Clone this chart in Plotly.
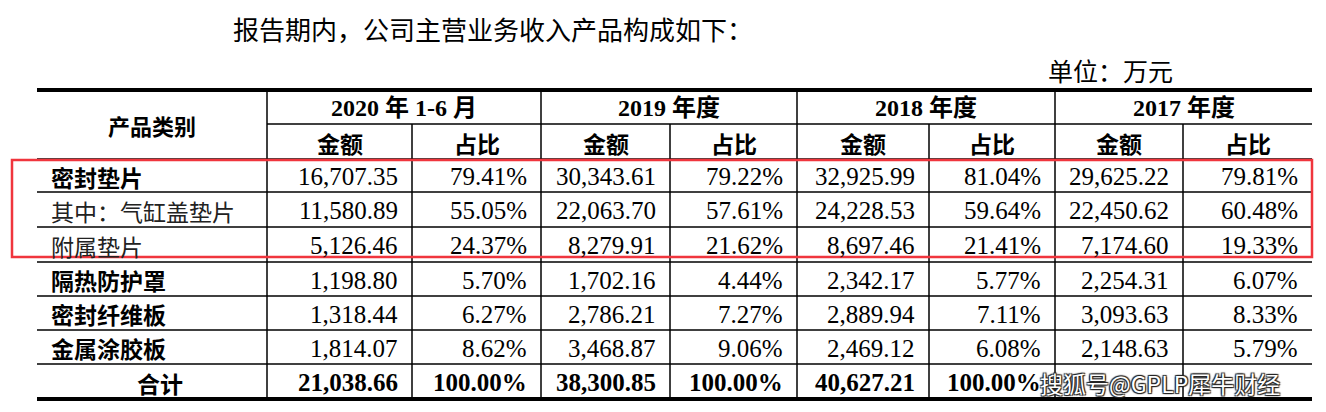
import plotly.graph_objects as go

title = "报告期内，公司主营业务收入产品构成如下："
unit = "单位：万元"
periods = ["2020 年 1-6 月", "2019 年度", "2018 年度", "2017 年度"]
sub_headers = ["金额", "占比"]
categories = ["密封垫片", "其中：气缸盖垫片", "附属垫片", "隔热防护罩", "密封纤维板", "金属涂胶板", "合计"]
bold_rows = [True, False, False, True, True, True, True]
amt_2020 = ["16,707.35", "11,580.89", "5,126.46", "1,198.80", "1,318.44", "1,814.07", "21,038.66"]
pct_2020 = ["79.41%", "55.05%", "24.37%", "5.70%", "6.27%", "8.62%", "100.00%"]
amt_2019 = ["30,343.61", "22,063.70", "8,279.91", "1,702.16", "2,786.21", "3,468.87", "38,300.85"]
pct_2019 = ["79.22%", "57.61%", "21.62%", "4.44%", "7.27%", "9.06%", "100.00%"]
amt_2018 = ["32,925.99", "24,228.53", "8,697.46", "2,342.17", "2,889.94", "2,469.12", "40,627.21"]
pct_2018 = ["81.04%", "59.64%", "21.41%", "5.77%", "7.11%", "6.08%", "100.00%"]
amt_2017 = ["29,625.22", "22,450.62", "7,174.60", "2,254.31", "3,093.63", "2,148.63", ""]
pct_2017 = ["79.81%", "60.48%", "19.33%", "6.07%", "8.33%", "5.79%", ""]
watermark = "搜狐号@GPLP犀牛财经"

cols = [amt_2020, pct_2020, amt_2019, pct_2019, amt_2018, pct_2018, amt_2017, pct_2017]
xe = [37, 267, 412, 541, 670, 797, 929, 1055, 1183, 1312]
ye = [90, 124, 159, 192, 227, 262, 296, 330, 364, 399]

CJK = "Noto Sans CJK SC"
SERIF = "Liberation Serif"
fig = go.Figure()
shapes = []
ann = []
def line(x0, y0, x1, y1, w=1.5, c="black"):
    shapes.append(dict(type="line", x0=x0, y0=y0, x1=x1, y1=y1, xref="x", yref="y", line=dict(color=c, width=w)))

line(xe[0], ye[0], xe[-1], ye[0], 4)
line(xe[0], ye[-1], xe[-1], ye[-1], 4)
line(xe[1], ye[1], xe[-1], ye[1])
for y in ye[2:-1]:
    line(xe[0], y, xe[-1], y)
for i in range(1, 9):
    top = ye[0] if i % 2 == 1 else ye[1]
    line(xe[i], top, xe[i], ye[-1])
shapes.append(dict(type="rect", x0=12, y0=160, x1=1312, y1=257, xref="x", yref="y", line=dict(color="#f0353d", width=2.5)))

def t(x, y, s, size=22, bold=False, xa="center", fam=None, color="black"):
    ann.append(dict(x=x, y=y, text=f"<b>{s}</b>" if bold else s, showarrow=False, xref="x", yref="y",
                    xanchor=xa, yanchor="middle", font=dict(size=size, family=fam or f"{SERIF}, {CJK}", color=color)))

t(231, 28, title, 26, xa="left", fam=CJK)
t(1175, 70, unit, 25, xa="right", fam=CJK)
t((xe[0] + xe[1]) / 2, (ye[0] + ye[2]) / 2, "产品类别", 22, True, fam=CJK)
for k, p in enumerate(periods):
    t((xe[1 + 2 * k] + xe[3 + 2 * k]) / 2, (ye[0] + ye[1]) / 2 + 1, p, 24, True)
    for j in range(2):
        t((xe[1 + 2 * k + j] + xe[2 + 2 * k + j]) / 2, (ye[1] + ye[2]) / 2 + 1, sub_headers[j], 23, True, fam=CJK)
for r, c in enumerate(categories):
    yc = (ye[2 + r] + ye[3 + r]) / 2 + 1
    if r == len(categories) - 1:
        t((xe[0] + xe[1]) / 2 + 8, yc, c, 23, True, fam=CJK)
    else:
        t(xe[0] + 12, yc, c, 23, bold_rows[r], xa="left", fam=CJK, color="black" if bold_rows[r] else "#222")
    for i, col in enumerate(cols):
        if col[r]:
            t(xe[2 + i] - 12, yc, col[r], 25, r == len(categories) - 1, xa="right")
ann.append(dict(x=1160, y=383, text=watermark, showarrow=False, xref="x", yref="y", xanchor="center", yanchor="middle",
                font=dict(size=23, family=CJK, color="white", shadow="1px 1px 1px #222, -1px -1px 1px #222, 1px -1px 1px #222, -1px 1px 1px #222")))

# page body has an 8px margin; shift the plotting frame to compensate
fig.update_layout(width=1318, height=404, margin=dict(l=0, r=0, t=0, b=0), plot_bgcolor="white", paper_bgcolor="white",
                  shapes=shapes, annotations=ann, showlegend=False,
                  xaxis=dict(range=[8, 1326], visible=False, fixedrange=True),
                  yaxis=dict(range=[412, 8], visible=False, fixedrange=True))
fig.write_html("out.html")
